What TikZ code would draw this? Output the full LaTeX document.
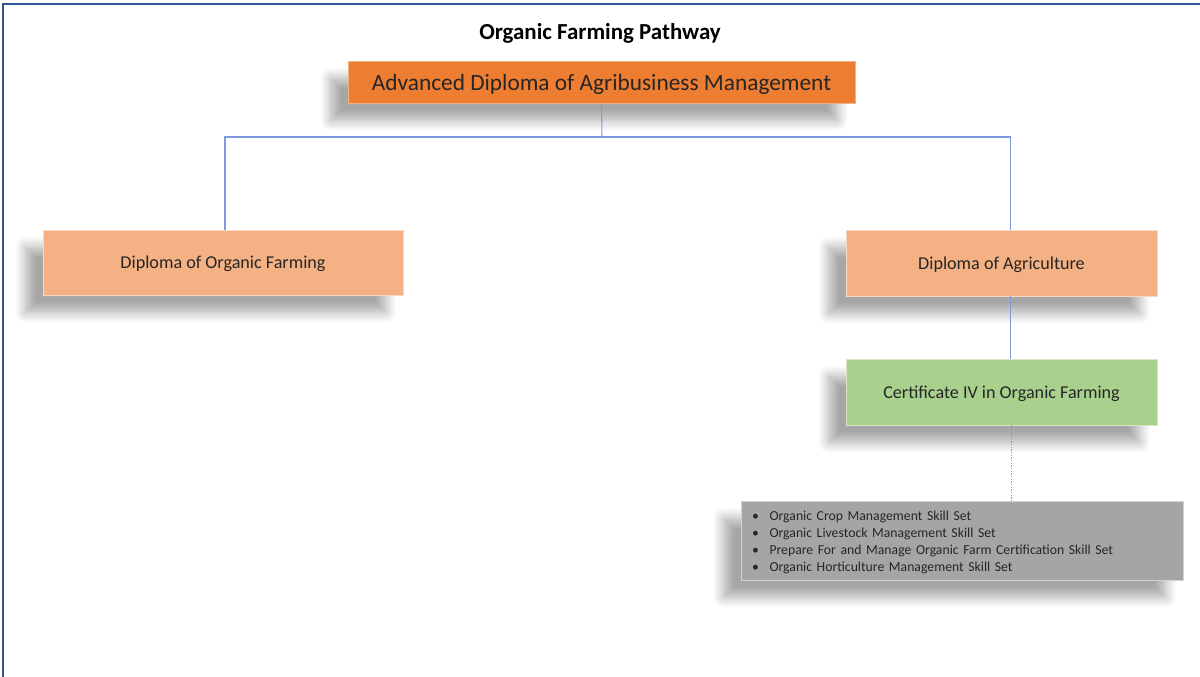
\documentclass[tikz,border=0pt]{standalone}
\usepackage{fontspec}
\setmainfont{Carlito}
\usepackage{tikz}
\usetikzlibrary{shadows.blur}
\definecolor{framecol}{RGB}{47,85,151}
\definecolor{conncol}{RGB}{125,155,220}
\definecolor{advfill}{RGB}{237,125,49}
\definecolor{dipfill}{RGB}{244,177,131}
\definecolor{certfill}{RGB}{169,209,142}
\definecolor{skillfill}{RGB}{165,165,165}
\tikzset{box/.style={rectangle, inner sep=0pt, text depth=0pt, text=black!85,
      blur shadow={shadow xshift=-13pt, shadow yshift=-13pt, shadow opacity=35,
        shadow blur radius=8pt, shadow blur steps=12}},
  advbox/.style={box, fill=advfill, draw=advfill!60!white, font=\fontsize{17.5}{21}\selectfont},
  dipbox/.style={box, fill=dipfill, draw=dipfill!50!white, font=\fontsize{13.6}{16}\selectfont},
  certbox/.style={box, fill=certfill, draw=certfill!50!white, font=\fontsize{13.6}{16}\selectfont},
  skillbox/.style={box, fill=skillfill, draw=skillfill!50!white, align=left,
      inner xsep=8pt, font=\fontsize{10.3}{12.75}\selectfont},
  conn/.style={draw=conncol, line width=0.8pt}}

\begin{document}
\begin{tikzpicture}[x=0.75pt,y=-0.75pt]
    \useasboundingbox (0,0) rectangle (1200,677);
    \draw[framecol, line width=1.3pt] (3,677) -- (3,4) -- (1200,4);
    \node[font=\bfseries\fontsize{17.2}{20}\selectfont] (title) at (600,33.5) {Organic Farming Pathway};
    % boxes
    \node[advbox, minimum width=380pt, minimum height=31.5pt] (adv) at (601.5,82) {Advanced Diploma of Agribusiness Management};
    \node[dipbox, minimum width=270pt, minimum height=48.75pt] (dof) at (223,262.5) {Diploma of Organic Farming};
    \node[dipbox, minimum width=233pt, minimum height=49.5pt] (dag) at (1001.5,263) {Diploma of Agriculture};
    \node[certbox, minimum width=233pt, minimum height=49.5pt] (cert) at (1001.5,392) {Certificate IV in Organic Farming};
    \node[skillbox, minimum width=331.5pt, minimum height=59.25pt, text width=315pt] (skills) at (962,540.5)
      {\begin{tabular}[b]{@{}l@{\hspace{8pt}}l@{}}
       \textbullet & Organic Crop Management Skill Set\\
       \textbullet & Organic Livestock Management Skill Set\\
       \textbullet & Prepare For and Manage Organic Farm Certification Skill Set\\
       \textbullet & Organic Horticulture Management Skill Set
       \end{tabular}};
    % connectors
    \coordinate (junc) at (602,137);
    \draw[conn] (adv.south) -- (junc);
    \draw[conn] (junc) -| ([xshift=1.5pt]dof.north);
    \draw[conn] (junc) -| ([xshift=6.4pt]dag.north);
    \draw[conn] ([xshift=6.4pt]dag.south) -- ([xshift=6.4pt]cert.north);
    \draw[conn, dash pattern=on 1pt off 1pt] ([xshift=7.5pt]cert.south) -- ([xshift=7.5pt]cert.south |- skills.north);
\end{tikzpicture}
\end{document}
